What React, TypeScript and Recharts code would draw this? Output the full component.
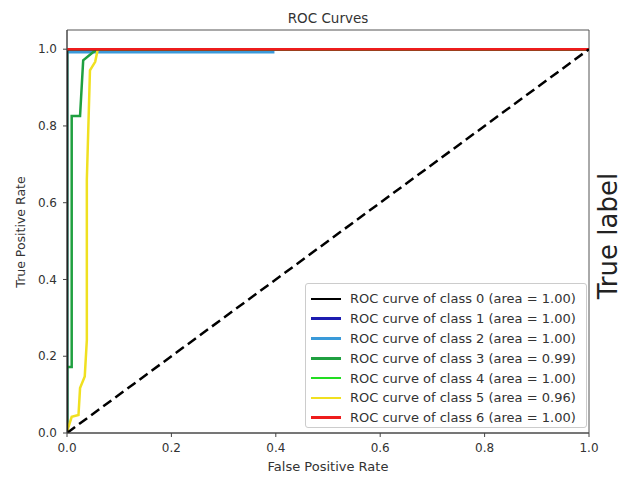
import { LineChart, Line, XAxis, YAxis, ReferenceArea } from "recharts";

// ROC points per class (false positive rate / true positive rate)
const class0Fpr = [0, 0, 1];
const class0Tpr = [0, 1, 1];
const class1Fpr = [0, 0, 1];
const class1Tpr = [0, 1, 1];
const class2Fpr = [0, 0, 0.395, 0.395, 1];
const class2Tpr = [0, 0.992, 0.992, 1, 1];
const class3Fpr = [0, 0, 0.009, 0.009, 0.025, 0.031, 0.048, 0.058, 1];
const class3Tpr = [0, 0.172, 0.172, 0.826, 0.826, 0.971, 0.99, 1, 1];
const class4Fpr = [0, 0, 1];
const class4Tpr = [0, 1, 1];
const class5Fpr = [0, 0.002, 0.009, 0.022, 0.025, 0.034, 0.038, 0.038, 0.044, 0.054, 0.059, 1];
const class5Tpr = [0, 0.012, 0.042, 0.047, 0.117, 0.147, 0.242, 0.66, 0.945, 0.967, 1, 1];
const class6Fpr = [0, 1];
const class6Tpr = [1, 1];
const chanceFpr = [0, 1];
const chanceTpr = [0, 1];

const classAreas = ["1.00", "1.00", "1.00", "0.99", "1.00", "0.96", "1.00"];
const classColors = ["#000000", "#1c1cb0", "#3a9ad9", "#1fa040", "#22dd22", "#f0e020", "#ee1c1c"];
const axisTicks = [0, 0.2, 0.4, 0.6, 0.8, 1.0];

const zip = (xs: number[], ys: number[]) => xs.map((x, i) => ({ x, y: ys[i] }));

const curves = [
  zip(class0Fpr, class0Tpr),
  zip(class1Fpr, class1Tpr),
  zip(class2Fpr, class2Tpr),
  zip(class3Fpr, class3Tpr),
  zip(class4Fpr, class4Tpr),
  zip(class5Fpr, class5Tpr),
  zip(class6Fpr, class6Tpr),
];

// black goes on top of the other vertical segments, red on top of everything but the chance line
const drawOrder = [1, 2, 4, 3, 5, 0, 6];

const FONT = "'DejaVu Sans', sans-serif";
const TEXT = "#333";
const fmt = (v: number) => v.toFixed(1);

export default function App() {
  return (
    <div style={{ position: "absolute", left: 0, top: 0, width: 627, height: 477, background: "#fff", fontFamily: FONT }}>
      <LineChart width={627} height={477} margin={{ top: 30, right: 38, bottom: 14, left: 8 }}>
        <XAxis
          type="number"
          dataKey="x"
          domain={[0, 1]}
          ticks={axisTicks}
          tickFormatter={fmt}
          allowDataOverflow
          height={30}
          tickSize={4}
          tickMargin={6}
          stroke="#444"
          tick={{ fontSize: 12, fill: TEXT, fontFamily: FONT }}
        />
        <YAxis
          type="number"
          dataKey="y"
          domain={[0, 1.05]}
          ticks={axisTicks}
          tickFormatter={fmt}
          allowDataOverflow
          width={59}
          tickSize={4}
          tickMargin={6}
          stroke="#444"
          tick={{ fontSize: 12, fill: TEXT, fontFamily: FONT }}
        />
        <ReferenceArea x1={0} x2={1} y1={0} y2={1.05} fill="none" stroke="#555" strokeWidth={1} />
        {drawOrder.map((i) => (
          <Line
            key={i}
            data={curves[i]}
            dataKey="y"
            type="linear"
            stroke={classColors[i]}
            strokeWidth={2.5}
            dot={false}
            isAnimationActive={false}
          />
        ))}
        <Line
          data={zip(chanceFpr, chanceTpr)}
          dataKey="y"
          type="linear"
          stroke="#000"
          strokeWidth={2.5}
          strokeDasharray="10 5"
          dot={false}
          legendType="none"
          isAnimationActive={false}
        />
      </LineChart>

      <svg width={627} height={477} style={{ position: "absolute", left: 0, top: 0, pointerEvents: "none" }}>
        <text x={328} y={23} textAnchor="middle" fontSize={13.5} fill={TEXT} fontFamily={FONT}>
          ROC Curves
        </text>
        <text x={328} y={471} textAnchor="middle" fontSize={13} fill={TEXT} fontFamily={FONT}>
          False Positive Rate
        </text>
        <text
          x={25}
          y={232}
          textAnchor="middle"
          fontSize={12.5}
          fill={TEXT}
          fontFamily={FONT}
          transform="rotate(-90 25 232)"
        >
          True Positive Rate
        </text>
        <text
          x={617}
          y={236}
          textAnchor="middle"
          fontSize={26}
          fill="#222"
          fontFamily={FONT}
          transform="rotate(-90 617 236)"
        >
          True label
        </text>
      </svg>

      <div
        style={{
          position: "absolute",
          left: 305,
          top: 283,
          width: 282,
          height: 145,
          boxSizing: "border-box",
          border: "1px solid #ccc",
          borderRadius: 3,
          background: "rgba(255,255,255,0.85)",
          paddingTop: 5,
        }}
      >
        {classAreas.map((area, i) => (
          <div key={i} style={{ display: "flex", alignItems: "center", height: 19.8 }}>
            <div style={{ width: 30, height: 2.5, marginLeft: 5, background: classColors[i] }} />
            <span style={{ marginLeft: 9, fontSize: 13, color: TEXT, whiteSpace: "nowrap" }}>
              ROC curve of class {i} (area = {area})
            </span>
          </div>
        ))}
      </div>
    </div>
  );
}
